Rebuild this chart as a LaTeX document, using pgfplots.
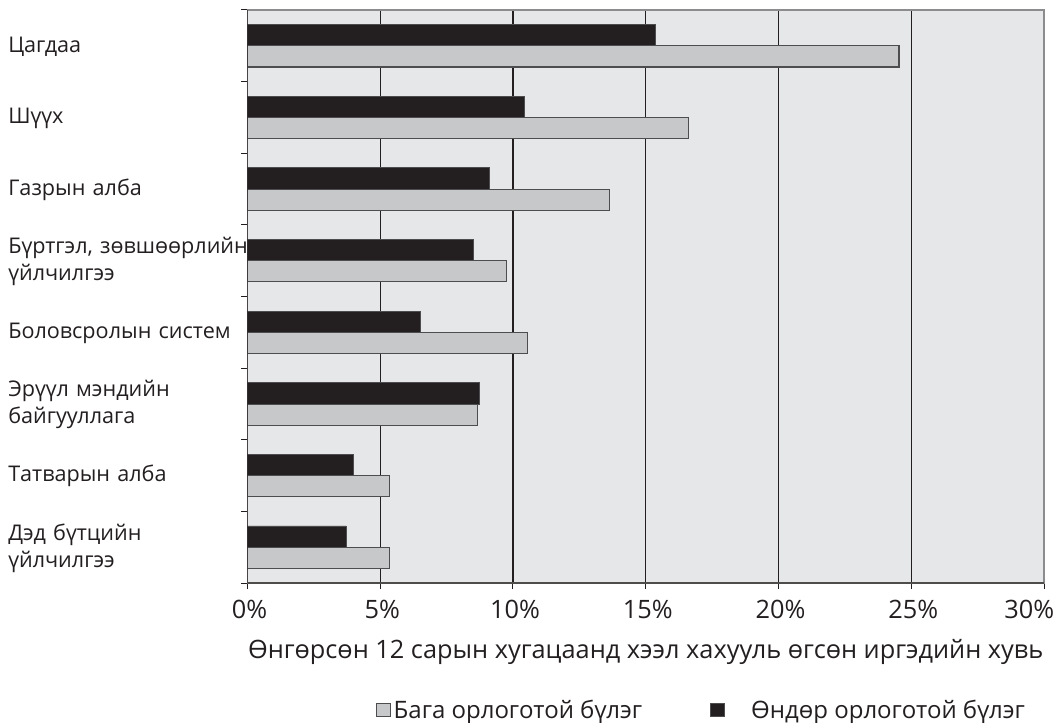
\documentclass[border=0pt]{standalone}
\usepackage{fontspec}
\setmainfont{Open Sans}
\usepackage{pgfplots}
\pgfplotsset{compat=1.18}
\definecolor{bg}{HTML}{E6E7E8}
\definecolor{barg}{HTML}{C7C8CA}
\definecolor{bark}{HTML}{231F20}
\definecolor{edge}{HTML}{4D4D4F}
\definecolor{frame}{HTML}{8C8C8E}
\newcommand\lbl{\fontsize{16.2}{20.25}\selectfont}
\newcommand\bigf{\fontsize{19}{22}\selectfont}
\newcommand\leg{\fontsize{18}{20}\selectfont}
\begin{document}
\begin{tikzpicture}
\begin{axis}[
  name=ax,
  scale only axis, width=597.4pt, height=429.75pt,
  xbar,
  xmin=0, xmax=30, ymin=-0.5, ymax=7.5, y dir=reverse,
  axis background/.style={fill=bg},
  axis line style={draw=frame, line width=1pt},
  xtick={0,5,...,30},
  xticklabels={0\%,5\%,10\%,15\%,20\%,25\%,{\hspace*{-25pt}30\%}},
  xmajorgrids, major grid style={draw=bark, line width=1pt},
  tick style={draw=bark, line width=0.75pt},
  tick align=outside, major tick length=4.5pt,
  xtick pos=bottom, ytick pos=left,
  ytick={-0.5,0.5,...,7.5},
  yticklabels={},
  extra y ticks={0,1,2,3,4,5,6,7},
  extra y tick labels={{Цагдаа},{Шүүх},{Газрын алба},{Бүртгэл, зөвшөөрлийн\\үйлчилгээ},{Боловсролын систем},{Эрүүл мэндийн\\байгууллага},{Татварын алба},{Дэд бүтцийн\\үйлчилгээ}},
  extra y tick style={grid=none, major tick length=0pt,
    yticklabel style={anchor=west, align=left, text width=185pt, inner sep=0pt, xshift=-179.6pt, yshift=-0.5pt, font=\lbl, text=bark}},
  xticklabel style={font=\bigf, text=bark, inner sep=0pt, yshift=-8pt, xshift=1.5pt},
  xlabel={Өнгөрсөн 12 сарын хугацаанд хээл хахууль өгсөн иргэдийн хувь},
  xlabel style={at={(axis description cs:0.5,0)}, anchor=center, yshift=-52pt, font=\bigf, text=bark},
  bar width=0.296,
  legend style={at={(axis description cs:0.161,-0.2216)}, anchor=west, draw=none, fill=none, inner sep=0pt,
    font=\leg, text=bark, cells={anchor=west},
    /tikz/every even column/.append style={column sep=48.75pt}},
  legend columns=2,
  legend image code/.code={\draw[#1] (0pt,-5pt) rectangle (10.5pt,5pt);},
]
\addplot[fill=barg, draw=edge, line width=0.8pt, bar shift=0.148] coordinates {
(24.54,0) (16.61,1) (13.62,2) (9.76,3) (10.55,4) (8.68,5) (5.35,6) (5.34,7)};
\addplot[fill=bark, draw=edge, line width=0.6pt, bar shift=-0.148] coordinates {
(15.35,0) (10.44,1) (9.13,2) (8.50,3) (6.51,4) (8.75,5) (3.98,6) (3.73,7)};
\legend{Бага орлоготой бүлэг, \hspace{18pt}Өндөр орлоготой бүлэг}
\draw[bark, line width=1pt] (rel axis cs:0,0) -- (rel axis cs:0,1);
\draw[bark!80, line width=1pt] (rel axis cs:0,0) -- (rel axis cs:1,0);
\end{axis}
\pgfresetboundingbox
\useasboundingbox ([xshift=-185.6pt,yshift=7.5pt]ax.north west) rectangle ([xshift=7.5pt,yshift=-105pt]ax.south east);
\end{tikzpicture}
\end{document}
